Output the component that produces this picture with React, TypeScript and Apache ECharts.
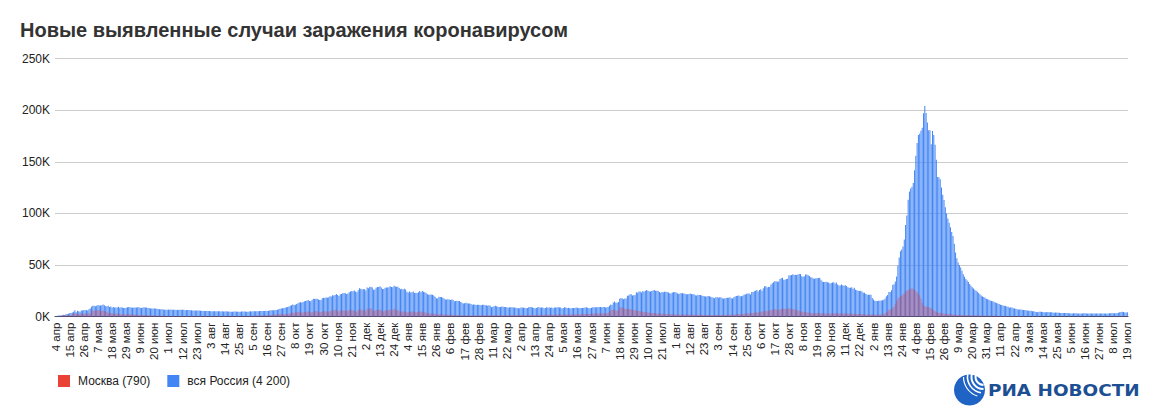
import React, { useEffect, useRef } from "react";
import * as echarts from "echarts";

// ---- labels ----
const MONTHS = ["янв", "фев", "мар", "апр", "мая", "июн", "июл", "авг", "сен", "окт", "ноя", "дек"];
const START_DATE = [2020, 3, 4]; // 4 апр 2020
const TITLE = "Новые выявленные случаи заражения коронавирусом";
const NAME_MOSCOW = "Москва (790)";
const NAME_RUSSIA = "вся Россия (4 200)";
const Y_TICKS_K = [0, 50, 100, 150, 200, 250];

// ---- вся Россия, тыс. случаев в день ----
const RU_2020_04 = [0.6, 0.66, 0.95, 1.15, 1.18, 1.46, 1.79, 1.67, 2.19, 2.56, 2.77, 3.39, 3.45, 4.07, 4.79, 6.06, 4.27, 5.64, 5.24, 4.77, 5.85, 5.97, 6.36, 6.2, 6.41, 5.84, 7.1];
const RU_2020_05 = [7.93, 9.62, 10.63, 10.58, 10.1, 10.56, 11.23, 10.7, 10.82, 11.01, 11.66, 10.9, 10.03, 9.97, 10.6, 9.2, 9.71, 8.93, 9.26, 8.76, 8.85, 8.89, 9.43, 8.6, 8.95, 8.92, 8.34, 8.37, 8.57, 8.95, 9.27];
const RU_2020_06 = [9.04, 8.86, 8.54, 8.83, 8.73, 8.86, 8.98, 8.99, 8.6, 8.4, 8.78, 8.99, 8.71, 8.84, 8.25, 8.25, 7.84, 7.79, 7.97, 7.89, 7.73, 7.6, 7.43, 7.18, 7.11, 7.11, 6.8, 6.72, 6.69, 6.56];
const RU_2020_07 = [6.76, 6.72, 6.76, 6.63, 6.74, 6.61, 6.37, 6.56, 6.51, 6.64, 6.61, 6.62, 6.54, 6.25, 6.42, 6.43, 6.41, 6.23, 6.11, 5.94, 5.84, 5.86, 5.85, 5.81, 5.87, 5.77, 5.64, 5.48, 5.4, 5.51, 5.48];
const RU_2020_08 = [5.46, 5.43, 5.16, 5.2, 5.27, 5.24, 5.21, 5.19, 5.12, 5.1, 4.95, 5.1, 5.06, 5.06, 5.07, 4.97, 4.84, 4.75, 4.77, 4.79, 4.87, 4.92, 4.85, 4.68, 4.7, 4.71, 4.83, 4.88, 4.98, 4.9, 4.73];
const RU_2020_09 = [4.73, 4.95, 5.11, 5.0, 5.21, 5.2, 5.19, 5.1, 5.17, 5.36, 5.31, 5.41, 5.45, 5.51, 5.67, 5.53, 5.76, 5.91, 6.07, 6.15, 6.2, 6.22, 6.43, 6.6, 7.21, 7.52, 7.87, 8.14, 8.23, 8.48];
const RU_2020_10 = [8.95, 9.41, 9.86, 10.5, 10.89, 11.62, 11.12, 11.49, 12.13, 12.85, 13.63, 13.87, 13.59, 14.23, 14.92, 15.15, 15.72, 15.98, 15.05, 14.92, 15.97, 17.34, 16.96, 17.35, 17.34, 16.55, 16.2, 16.2, 17.72, 18.28, 18.14];
const RU_2020_11 = [18.67, 18.26, 18.65, 19.77, 19.4, 20.58, 20.5, 20.98, 21.8, 20.98, 19.85, 21.61, 21.98, 22.7, 22.78, 22.57, 21.83, 22.41, 23.61, 24.32, 24.82, 24.58, 25.17, 24.33, 23.68, 25.49, 27.54, 27.1, 26.34, 26.68];
const RU_2020_12 = [26.4, 25.35, 28.15, 27.4, 28.78, 29.04, 28.14, 26.1, 26.19, 27.93, 28.59, 28.59, 29.35, 28.08, 26.69, 26.81, 27.92, 28.21, 28.21, 28.55, 29.4, 28.78, 28.55, 29.94, 29.26, 28.95, 29.02, 27.79, 26.51, 27.04, 26.3];
const RU_2021_01 = [27.03, 26.3, 24.15, 23.35, 24.25, 23.31, 23.54, 24.22, 22.85, 23.06, 22.93, 23.65, 24.76, 23.51, 24.72, 24.09, 23.59, 22.86, 21.73, 21.15, 21.13, 21.51, 21.26, 20.51, 19.29, 17.74, 17.65, 19.14, 19.03, 19.0, 18.36];
const RU_2021_02 = [17.65, 16.64, 16.47, 16.71, 16.69, 16.05, 16.63, 16.31, 14.93, 15.17, 15.24, 15.22, 15.15, 14.19, 13.43, 12.76, 12.92, 13.45, 12.95, 12.74, 12.6, 12.2, 11.53, 11.76, 11.75, 11.2, 11.53, 11.57];
const RU_2021_03 = [11.36, 11.02, 11.39, 11.49, 11.02, 11.02, 10.6, 11.02, 10.6, 9.08, 9.44, 9.91, 10.57, 9.91, 9.45, 9.27, 9.39, 9.8, 9.63, 9.3, 9.22, 9.09, 8.46, 9.0, 9.17, 9.07, 8.89, 8.71, 8.67, 8.28, 8.16];
const RU_2021_04 = [8.17, 8.83, 8.89, 8.65, 8.67, 8.16, 8.29, 9.0, 9.27, 9.24, 8.7, 8.33, 8.17, 8.29, 9.0, 9.07, 8.81, 8.7, 8.84, 8.05, 8.27, 9.07, 8.8, 8.78, 8.59, 8.7, 8.11, 8.73, 8.79, 8.83];
const RU_2021_05 = [9.27, 8.7, 8.9, 7.77, 8.4, 8.95, 8.79, 8.42, 8.6, 8.12, 8.2, 8.22, 8.33, 8.22, 8.79, 8.55, 8.08, 8.22, 8.22, 8.22, 8.63, 8.83, 8.95, 8.6, 8.25, 8.19, 8.63, 8.95, 9.0, 9.14, 9.14];
const RU_2021_06 = [9.03, 9.29, 9.25, 9.18, 9.2, 9.19, 8.91, 9.06, 9.21, 10.41, 11.7, 11.2, 13.72, 14.72, 13.4, 13.4, 14.06, 17.26, 17.91, 17.61, 16.72, 17.59, 17.6, 20.18, 20.39, 21.67, 21.65, 20.54, 20.62, 21.04];
const RU_2021_07 = [23.54, 23.22, 24.44, 24.35, 23.38, 24.7, 23.96, 25.14, 25.77, 25.08, 24.46, 24.44, 24.7, 25.29, 25.7, 25.12, 25.14, 24.71, 23.77, 23.22, 23.81, 23.7, 24.07, 24.02, 23.95, 23.27, 22.73, 22.42, 23.27, 23.56, 23.81];
const RU_2021_08 = [23.27, 22.59, 21.93, 22.42, 22.8, 22.66, 22.28, 22.16, 21.73, 21.57, 21.93, 22.28, 21.87, 21.62, 21.62, 20.77, 20.48, 21.06, 21.0, 20.99, 20.56, 20.06, 19.63, 19.51, 19.57, 20.06, 19.71, 19.29, 18.86, 18.33, 17.81];
const RU_2021_09 = [18.78, 18.99, 18.34, 18.65, 18.66, 17.86, 17.33, 17.84, 18.06, 18.38, 18.18, 18.65, 17.84, 17.53, 18.84, 19.59, 19.91, 20.17, 20.33, 19.74, 19.71, 20.17, 21.38, 21.44, 22.24, 22.5, 22.43, 21.51, 23.89, 23.89];
const RU_2021_10 = [24.52, 25.11, 25.77, 24.35, 25.78, 26.44, 25.13, 27.55, 29.36, 29.41, 28.19, 28.72, 28.72, 31.0, 32.2, 33.21, 34.33, 34.3, 33.74, 34.07, 36.34, 37.14, 37.68, 35.66, 35.66, 36.45, 36.58, 40.1, 39.85, 40.25, 40.99];
const RU_2021_11 = [40.4, 40.44, 40.22, 40.74, 41.34, 41.34, 39.17, 38.51, 39.16, 40.76, 40.76, 40.12, 39.26, 38.06, 37.93, 36.97, 36.63, 37.12, 37.16, 37.37, 37.68, 35.68, 34.0, 33.56, 33.55, 33.86, 33.39, 32.93, 32.14, 32.6];
const RU_2021_12 = [32.93, 33.39, 32.14, 32.93, 31.1, 30.06, 30.06, 31.1, 30.44, 29.93, 30.44, 29.56, 28.49, 28.0, 27.97, 28.49, 26.93, 27.97, 26.0, 25.49, 25.0, 24.7, 25.0, 24.22, 23.0, 23.0, 21.78, 21.07, 21.1, 21.07, 21.07];
const RU_2022_01 = [18.0, 16.5, 15.31, 15.0, 15.2, 15.38, 15.38, 15.63, 15.83, 16.25, 17.53, 19.75, 21.0, 23.82, 23.82, 25.5, 30.73, 31.25, 33.9, 38.85, 49.51, 57.21, 63.21, 65.11, 67.81, 74.69, 88.82, 98.04, 113.12, 121.23, 124.07];
const RU_2022_02 = [125.84, 129.45, 141.88, 155.77, 168.2, 176.05, 177.28, 180.07, 183.1, 197.08, 203.95, 197.18, 188.06, 180.62, 180.46, 167.04, 179.82, 176.0, 166.63, 152.0, 135.17, 135.0, 133.0, 125.0, 118.0, 113.0, 106.0, 100.0];
const RU_2022_03 = [95, 91, 86.5, 82, 78, 70.5, 62, 56.5, 52.5, 50, 47.5, 44.5, 41, 38.5, 36.5, 35, 33.5, 31.5, 30, 28.5, 27.2, 26, 25.1, 24, 22.8, 21.6, 20.4, 19.5, 19.1, 18.2, 17.4];
const RU_2022_04 = [16.9, 16.3, 15.6, 15.0, 14.9, 14.3, 13.7, 13.2, 12.7, 12.2, 11.4, 11.2, 10.8, 10.6, 10.2, 9.9, 9.5, 8.6, 9.0, 8.7, 8.1, 7.9, 7.6, 7.2, 6.8, 7.0, 6.9, 6.7, 6.5, 6.3];
const RU_2022_05 = [6.2, 6.0, 5.6, 5.7, 5.6, 5.3, 5.1, 4.8, 4.5, 4.3, 4.6, 4.7, 4.6, 4.5, 4.3, 4.1, 4.2, 4.4, 4.3, 4.2, 4.1, 3.9, 3.8, 4.0, 4.0, 3.8, 3.7, 3.6, 3.5, 3.4, 3.5];
const RU_2022_06 = [3.5, 3.4, 3.3, 3.2, 3.1, 3.1, 3.2, 3.3, 3.2, 3.1, 3.0, 2.9, 2.9, 3.1, 3.2, 3.2, 3.1, 3.0, 2.9, 2.9, 3.0, 3.1, 3.1, 3.0, 2.9, 2.9, 3.0, 3.1, 3.1, 3.0];
const RU_2022_07 = [3.0, 2.9, 2.8, 3.0, 3.2, 3.3, 3.4, 3.3, 3.2, 3.2, 3.4, 3.7, 4.1, 4.5, 4.6, 4.5, 3.9, 3.9, 4.2];

// ---- Москва, тыс. случаев в день ----
const MSK_2020_04 = [0.43, 0.54, 0.7, 0.59, 0.66, 1.12, 1.31, 1.12, 1.36, 1.49, 1.31, 1.77, 1.37, 1.96, 3.08, 3.57, 2.65, 2.55, 2.61, 2.87, 3.08, 2.52, 2.77, 2.96, 3.08, 2.22, 3.23];
const MSK_2020_05 = [3.08, 5.36, 5.95, 5.8, 5.71, 5.86, 6.7, 5.85, 5.67, 5.39, 6.17, 5.39, 4.7, 4.75, 3.51, 3.24, 3.51, 3.24, 2.73, 2.7, 2.91, 2.99, 2.52, 2.52, 2.41, 2.14, 2.05, 2.05, 2.3, 2.33, 2.6];
const MSK_2020_06 = [2.3, 2.0, 1.84, 1.84, 1.95, 1.57, 2.0, 1.57, 1.2, 1.2, 1.57, 1.54, 1.48, 1.48, 1.23, 1.04, 1.03, 0.99, 1.0, 0.97, 0.98, 0.82, 0.79, 0.75, 0.84, 0.76, 0.75, 0.76, 0.67, 0.65];
const MSK_2020_07 = [0.6, 0.65, 0.66, 0.66, 0.69, 0.69, 0.66, 0.64, 0.64, 0.66, 0.68, 0.62, 0.64, 0.63, 0.66, 0.65, 0.63, 0.62, 0.55, 0.6, 0.54, 0.61, 0.62, 0.57, 0.57, 0.54, 0.6, 0.61, 0.62, 0.65, 0.68];
const MSK_2020_08 = [0.69, 0.66, 0.67, 0.69, 0.7, 0.69, 0.68, 0.67, 0.63, 0.63, 0.64, 0.67, 0.68, 0.69, 0.69, 0.66, 0.67, 0.66, 0.67, 0.65, 0.65, 0.68, 0.68, 0.64, 0.67, 0.68, 0.68, 0.69, 0.71, 0.67, 0.67];
const MSK_2020_09 = [0.7, 0.66, 0.7, 0.75, 0.77, 0.75, 0.8, 0.78, 0.83, 0.9, 0.95, 1.0, 1.05, 1.15, 1.3, 1.05, 1.2, 1.3, 1.45, 1.6, 1.79, 1.99, 2.01, 2.2, 2.3, 2.48, 2.67, 2.2, 2.3, 2.39];
const MSK_2020_10 = [2.42, 2.6, 2.7, 3.33, 3.54, 4.08, 3.23, 4.17, 4.2, 4.5, 5.0, 4.12, 3.91, 4.05, 4.34, 4.2, 5.05, 5.26, 4.3, 3.89, 4.14, 4.72, 5.22, 5.31, 5.12, 4.41, 4.31, 4.51, 5.25, 5.22, 5.11];
const MSK_2020_11 = [5.15, 5.0, 4.55, 5.63, 5.5, 5.9, 6.07, 6.44, 6.9, 5.23, 5.14, 5.88, 5.92, 6.1, 6.17, 5.9, 5.48, 5.4, 6.9, 6.44, 6.05, 6.2, 6.0, 5.0, 4.73, 6.44, 7.17, 6.8, 6.0, 6.65];
const MSK_2020_12 = [6.1, 5.4, 7.5, 6.9, 7.99, 8.2, 7.0, 5.52, 5.7, 6.4, 6.3, 6.5, 6.9, 6.1, 4.9, 5.2, 5.8, 6.25, 6.4, 6.5, 6.8, 5.8, 6.3, 7.8, 6.9, 6.2, 6.6, 5.3, 4.9, 5.05, 4.9];
const MSK_2021_01 = [5.1, 4.5, 4.3, 3.9, 4.7, 4.6, 4.9, 5.3, 4.2, 4.3, 4.2, 4.4, 5.2, 4.6, 5.0, 4.3, 4.1, 3.7, 3.3, 2.9, 2.9, 3.0, 3.1, 2.8, 2.4, 2.1, 2.0, 2.3, 2.4, 2.3, 2.1];
const MSK_2021_02 = [1.9, 1.85, 1.84, 1.86, 1.85, 1.8, 1.9, 1.6, 1.5, 1.5, 1.4, 1.5, 1.4, 1.3, 1.2, 1.15, 1.2, 1.3, 1.2, 1.15, 1.1, 1.0, 1.05, 1.1, 1.15, 1.1, 1.15, 1.1];
const MSK_2021_03 = [1.2, 1.1, 1.2, 1.3, 1.25, 1.2, 1.2, 1.3, 1.25, 1.1, 1.2, 1.3, 1.4, 1.3, 1.25, 1.2, 1.3, 1.35, 1.4, 1.35, 1.3, 1.3, 1.25, 1.4, 1.45, 1.5, 1.4, 1.35, 1.3, 1.4, 1.5];
const MSK_2021_04 = [1.6, 1.7, 1.65, 1.5, 1.4, 1.45, 1.5, 1.6, 1.7, 1.65, 1.55, 1.45, 1.5, 1.6, 1.7, 1.8, 1.75, 1.6, 1.65, 1.7, 1.75, 1.8, 1.85, 1.8, 1.7, 1.75, 1.8, 1.9, 2.0, 2.05];
const MSK_2021_05 = [2.1, 2.0, 1.95, 1.75, 1.9, 2.2, 2.3, 2.1, 2.05, 1.9, 2.1, 2.2, 2.35, 2.3, 2.4, 2.25, 2.1, 2.3, 2.35, 2.4, 2.55, 2.6, 2.65, 2.5, 2.4, 2.5, 2.7, 2.85, 2.9, 3.05, 3.05];
const MSK_2021_06 = [2.94, 3.0, 3.1, 3.25, 3.35, 3.3, 3.0, 3.3, 3.4, 4.5, 5.8, 6.7, 6.5, 6.6, 5.8, 5.7, 6.2, 9.06, 9.12, 8.6, 7.9, 7.5, 7.3, 7.6, 7.4, 7.3, 7.0, 6.5, 6.4, 6.1];
const MSK_2021_07 = [5.8, 5.6, 5.5, 5.3, 4.9, 4.8, 4.5, 4.4, 4.2, 4.0, 3.9, 3.6, 3.5, 3.5, 3.4, 3.3, 3.1, 3.0, 2.8, 2.7, 2.7, 2.7, 2.6, 2.5, 2.4, 2.3, 2.3, 2.3, 2.3, 2.3, 2.2];
const MSK_2021_08 = [2.1, 1.9, 1.9, 2.0, 2.1, 2.1, 2.1, 2.0, 1.8, 1.7, 1.9, 2.0, 1.9, 1.9, 1.8, 1.7, 1.6, 1.8, 1.8, 1.8, 1.7, 1.6, 1.5, 1.5, 1.6, 1.7, 1.6, 1.5, 1.5, 1.4, 1.4];
const MSK_2021_09 = [1.6, 1.7, 1.6, 1.6, 1.6, 1.5, 1.4, 1.6, 1.7, 1.8, 1.8, 1.9, 1.7, 1.7, 2.0, 2.1, 2.3, 2.4, 2.4, 2.2, 2.3, 2.5, 2.8, 2.9, 3.0, 3.1, 3.2, 3.0, 3.6, 3.6];
const MSK_2021_10 = [3.9, 4.2, 4.3, 3.8, 4.3, 4.8, 4.9, 5.0, 5.4, 5.6, 5.3, 5.6, 5.8, 6.3, 6.6, 7.0, 7.4, 7.0, 6.7, 6.5, 7.0, 7.3, 7.7, 7.5, 7.3, 7.2, 7.6, 8.0, 7.8, 7.4, 7.3];
const MSK_2021_11 = [6.9, 6.6, 6.2, 6.0, 5.8, 5.5, 4.9, 4.6, 4.5, 4.3, 4.0, 3.9, 3.8, 3.6, 3.4, 3.2, 3.2, 3.4, 3.5, 3.5, 3.4, 3.1, 2.9, 3.0, 3.1, 3.2, 3.1, 2.9, 2.8, 2.9];
const MSK_2021_12 = [3.2, 3.3, 3.2, 3.4, 3.1, 2.9, 2.8, 3.0, 3.1, 3.0, 3.1, 2.9, 2.8, 2.7, 2.8, 2.9, 2.6, 2.8, 2.6, 2.5, 2.4, 2.4, 2.5, 2.4, 2.3, 2.3, 2.1, 2.0, 2.1, 2.1, 2.2];
const MSK_2022_01 = [2.2, 2.0, 1.9, 1.8, 1.9, 1.9, 2.0, 2.1, 2.3, 2.6, 3.2, 4.2, 5.2, 6.4, 6.8, 7.3, 8.5, 9.9, 12.2, 15.1, 17.5, 18.7, 19.8, 20.2, 21.3, 22.4, 24.3, 25.1, 25.8, 26.4, 26.9];
const MSK_2022_02 = [27.5, 26.8, 26.1, 24.9, 23.6, 22.2, 20.5, 17.4, 13.5, 11.2, 10.1, 9.6, 9.2, 8.7, 8.9, 8.1, 7.2, 6.4, 5.3, 4.6, 3.9, 3.8, 3.5, 3.6, 3.3, 3.0, 2.8, 2.6];
const MSK_2022_03 = [2.5, 2.4, 2.3, 2.2, 2.1, 1.9, 1.7, 1.6, 1.6, 1.7, 1.6, 1.5, 1.4, 1.3, 1.4, 1.4, 1.3, 1.3, 1.2, 1.1, 1.0, 1.1, 1.1, 1.1, 1.0, 1.0, 0.9, 0.9, 1.0, 0.9, 0.9];
const MSK_2022_04 = [0.9, 0.85, 0.8, 0.75, 0.8, 0.8, 0.75, 0.75, 0.7, 0.7, 0.6, 0.7, 0.7, 0.65, 0.65, 0.6, 0.55, 0.5, 0.55, 0.6, 0.6, 0.55, 0.5, 0.5, 0.45, 0.5, 0.5, 0.5, 0.45, 0.45];
const MSK_2022_05 = [0.45, 0.4, 0.4, 0.4, 0.45, 0.45, 0.4, 0.4, 0.35, 0.35, 0.4, 0.45, 0.45, 0.4, 0.4, 0.35, 0.4, 0.4, 0.4, 0.4, 0.35, 0.35, 0.35, 0.4, 0.4, 0.4, 0.35, 0.35, 0.35, 0.35, 0.4];
const MSK_2022_06 = [0.4, 0.4, 0.4, 0.35, 0.35, 0.35, 0.4, 0.4, 0.4, 0.35, 0.35, 0.3, 0.35, 0.4, 0.4, 0.4, 0.4, 0.35, 0.35, 0.35, 0.4, 0.4, 0.4, 0.4, 0.35, 0.35, 0.4, 0.4, 0.4, 0.4];
const MSK_2022_07 = [0.4, 0.4, 0.35, 0.4, 0.45, 0.5, 0.5, 0.5, 0.45, 0.45, 0.55, 0.6, 0.65, 0.7, 0.7, 0.6, 0.6, 0.7, 0.79];

const RUSSIA = [
  ...RU_2020_04, ...RU_2020_05, ...RU_2020_06, ...RU_2020_07, ...RU_2020_08, ...RU_2020_09,
  ...RU_2020_10, ...RU_2020_11, ...RU_2020_12,
  ...RU_2021_01, ...RU_2021_02, ...RU_2021_03, ...RU_2021_04, ...RU_2021_05, ...RU_2021_06,
  ...RU_2021_07, ...RU_2021_08, ...RU_2021_09, ...RU_2021_10, ...RU_2021_11, ...RU_2021_12,
  ...RU_2022_01, ...RU_2022_02, ...RU_2022_03, ...RU_2022_04, ...RU_2022_05, ...RU_2022_06, ...RU_2022_07,
];
const MOSCOW = [
  ...MSK_2020_04, ...MSK_2020_05, ...MSK_2020_06, ...MSK_2020_07, ...MSK_2020_08, ...MSK_2020_09,
  ...MSK_2020_10, ...MSK_2020_11, ...MSK_2020_12,
  ...MSK_2021_01, ...MSK_2021_02, ...MSK_2021_03, ...MSK_2021_04, ...MSK_2021_05, ...MSK_2021_06,
  ...MSK_2021_07, ...MSK_2021_08, ...MSK_2021_09, ...MSK_2021_10, ...MSK_2021_11, ...MSK_2021_12,
  ...MSK_2022_01, ...MSK_2022_02, ...MSK_2022_03, ...MSK_2022_04, ...MSK_2022_05, ...MSK_2022_06, ...MSK_2022_07,
];

const CATEGORIES = RUSSIA.map((_, i) => {
  const d = new Date(Date.UTC(START_DATE[0], START_DATE[1], START_DATE[2] + i));
  return `${d.getUTCDate()} ${MONTHS[d.getUTCMonth()]}`;
});

const FONT = "'Liberation Sans', Arial, Helvetica, sans-serif";

export default function App() {
  const ref = useRef<HTMLDivElement>(null);

  useEffect(() => {
    document.body.style.margin = "0";
    document.body.style.background = "#ffffff";
    if (!ref.current) return;
    const chart = echarts.init(ref.current, undefined, { renderer: "svg" });

    const gx = 969.5;
    const gy = 390;

    chart.setOption({
      animation: false,
      backgroundColor: "#ffffff",
      textStyle: { fontFamily: FONT },
      title: {
        text: TITLE,
        left: 20,
        top: 20,
        padding: 0,
        textStyle: { fontSize: 20, fontWeight: "bold", color: "#333333", fontFamily: FONT },
      },
      legend: {
        left: 58,
        top: 375,
        padding: 0,
        itemWidth: 12,
        itemHeight: 12,
        itemGap: 17,
        icon: "rect",
        textStyle: { fontSize: 12, color: "#222222", fontFamily: FONT, padding: [0, 0, 0, 3] },
        data: [
          { name: NAME_MOSCOW, itemStyle: { color: "#ea4335", opacity: 1 } },
          { name: NAME_RUSSIA, itemStyle: { color: "#4285f4", opacity: 1 } },
        ],
      },
      grid: { left: 55, right: 22, top: 58.6, bottom: 93.4, containLabel: false },
      xAxis: {
        type: "category",
        data: CATEGORIES,
        boundaryGap: true,
        axisTick: { show: false },
        axisLine: { show: true, lineStyle: { color: "#333333", width: 1 } },
        axisLabel: {
          interval: 10,
          rotate: 90,
          fontSize: 11.5,
          color: "#222222",
          margin: 6,
          fontFamily: FONT,
        },
        splitLine: { show: false },
      },
      yAxis: {
        type: "value",
        min: Y_TICKS_K[0],
        max: Y_TICKS_K[Y_TICKS_K.length - 1],
        interval: 50,
        axisLine: { show: false },
        axisTick: { show: false },
        axisLabel: {
          formatter: (v: number) => `${v}K`,
          fontSize: 12,
          color: "#222222",
          margin: 5,
          fontFamily: FONT,
        },
        splitLine: { lineStyle: { color: "#cccccc", width: 1 } },
      },
      series: [
        {
          name: NAME_RUSSIA,
          type: "bar",
          data: RUSSIA,
          itemStyle: { color: "#4285f4" },
          barGap: "-100%",
          barCategoryGap: "22%",
          z: 2,
        },
        {
          name: NAME_MOSCOW,
          type: "bar",
          data: MOSCOW,
          itemStyle: { color: "rgba(220,60,70,0.45)" },
          barGap: "-100%",
          barCategoryGap: "22%",
          z: 3,
        },
      ],
      graphic: [
        {
          type: "group",
          silent: true,
          children: [
            { type: "circle", shape: { cx: gx, cy: gy, r: 15.5 }, style: { fill: "#1f63c4" } },
            { type: "arc", shape: { cx: gx + 14, cy: gy - 13, r: 8, startAngle: Math.PI * 0.5, endAngle: Math.PI * 1.1 }, style: { stroke: "#ffffff", lineWidth: 2, fill: "none" } },
            { type: "arc", shape: { cx: gx + 14, cy: gy - 13, r: 12, startAngle: Math.PI * 0.5, endAngle: Math.PI * 1.1 }, style: { stroke: "#ffffff", lineWidth: 2, fill: "none" } },
            { type: "arc", shape: { cx: gx + 14, cy: gy - 13, r: 16, startAngle: Math.PI * 0.55, endAngle: Math.PI * 1.05 }, style: { stroke: "#ffffff", lineWidth: 1.6, fill: "none" } },
            { type: "arc", shape: { cx: gx + 14, cy: gy - 13, r: 20, startAngle: Math.PI * 0.6, endAngle: Math.PI * 1.0 }, style: { stroke: "#ffffff", lineWidth: 1.2, fill: "none" } },
            {
              type: "text",
              x: 988,
              y: gy,
              scaleX: 1.15,
              style: {
                text: "РИА НОВОСТИ",
                fontSize: 16,
                fontWeight: "bold",
                fontFamily: "'DejaVu Sans', sans-serif",
                fill: "#1d4f93",
                textVerticalAlign: "middle",
                verticalAlign: "middle",
                textAlign: "left",
              },
            },
          ],
        },
      ],
    });

    return () => {
      chart.dispose();
    };
  }, []);

  return <div ref={ref} style={{ width: 1150, height: 410 }} />;
}
